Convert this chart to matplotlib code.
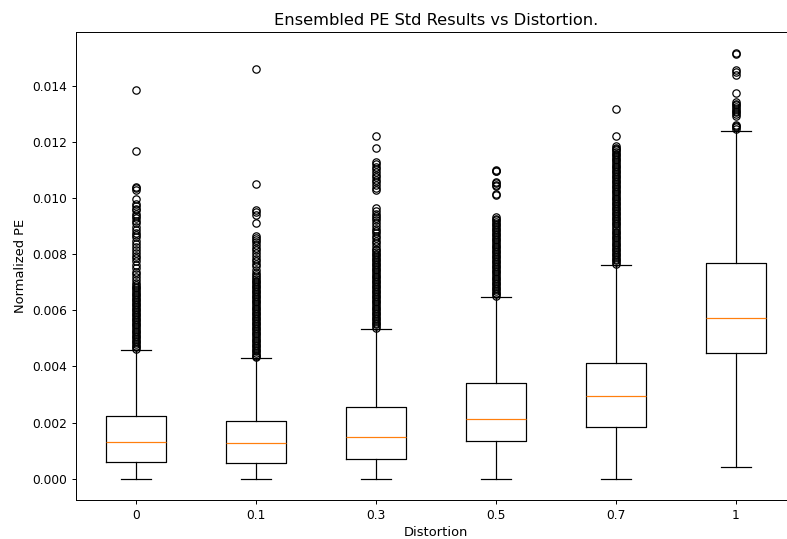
import matplotlib
matplotlib.use("Agg")
import matplotlib.pyplot as plt

# Values in units of 1e-3 (Normalized PE)
labels = ['0', '0.1', '0.3', '0.5', '0.7', '1']
q1 = [0.613, 0.577, 0.695, 1.347, 1.846, 4.48]
med = [1.301, 1.265, 1.50, 2.145, 2.95, 5.71]
q3 = [2.238, 2.06, 2.54, 3.41, 4.13, 7.69]
whislo = [0.0, 0.0, 0.0, 0.0, 0.0, 0.42]
whishi = [4.60, 4.29, 5.33, 6.48, 7.62, 12.39]

fliers_0 = [13.86, 11.68, 10.40, 10.36, 10.28, 9.96, 9.78, 9.71, 9.62, 9.57, 9.45, 9.36,
            9.28, 9.19, 9.10, 8.97, 8.88, 8.76, 8.68, 8.60, 8.48, 8.36, 8.25, 8.15, 8.05,
            7.95, 7.87, 7.75, 7.62, 7.50, 7.37, 7.28, 7.19, 7.07, 6.98, 6.90, 6.84, 6.78,
            6.72, 6.66, 6.60, 6.54, 6.48, 6.42, 6.36, 6.30, 6.24, 6.18, 6.12, 6.06, 6.00,
            5.94, 5.88, 5.82, 5.76, 5.70, 5.64, 5.58, 5.52, 5.46, 5.40, 5.34, 5.28, 5.22,
            5.16, 5.10, 5.04, 4.98, 4.92, 4.86, 4.80, 4.74, 4.68, 4.64]
fliers_01 = [14.59, 10.50, 9.59, 9.50, 9.39, 9.12, 8.64, 8.58, 8.50, 8.42, 8.32, 8.22,
             8.14, 8.04, 7.93, 7.84, 7.76, 7.66, 7.57, 7.45, 7.33, 7.26, 7.19, 7.10, 7.04,
             7.00, 6.94, 6.88, 6.82, 6.76, 6.70, 6.64, 6.58, 6.52, 6.46, 6.40, 6.34, 6.28,
             6.22, 6.16, 6.10, 6.04, 5.98, 5.92, 5.86, 5.80, 5.74, 5.68, 5.62, 5.56, 5.50,
             5.44, 5.38, 5.32, 5.26, 5.20, 5.14, 5.08, 5.02, 4.96, 4.90, 4.84, 4.78, 4.72,
             4.66, 4.60, 4.54, 4.48, 4.42, 4.36, 4.32]
fliers_03 = [12.22, 11.77, 11.29, 11.20, 11.11, 11.02, 10.93, 10.82, 10.74, 10.66, 10.56,
             10.46, 10.37, 10.28, 9.63, 9.55, 9.45, 9.36, 9.28, 9.21, 9.10, 9.00, 8.90,
             8.82, 8.74, 8.65, 8.56, 8.48, 8.40, 8.29, 8.20, 8.14, 8.08, 8.02, 7.96, 7.90,
             7.84, 7.78, 7.72, 7.66, 7.60, 7.54, 7.48, 7.42, 7.36, 7.30, 7.24, 7.18, 7.12,
             7.06, 7.00, 6.94, 6.88, 6.82, 6.76, 6.70, 6.64, 6.58, 6.52, 6.46, 6.40, 6.34,
             6.28, 6.22, 6.16, 6.10, 6.04, 5.98, 5.92, 5.86, 5.80, 5.74, 5.68, 5.62, 5.56,
             5.50, 5.44, 5.38]
fliers_05 = [10.99, 10.97, 10.95, 10.58, 10.54, 10.48, 10.42, 10.14, 10.11, 9.33, 9.27,
             9.21, 9.15, 9.09, 9.03, 8.97, 8.91, 8.85, 8.79, 8.73, 8.67, 8.61, 8.55, 8.49,
             8.43, 8.37, 8.31, 8.25, 8.19, 8.13, 8.07, 8.01, 7.95, 7.89, 7.83, 7.77, 7.71,
             7.65, 7.59, 7.53, 7.47, 7.41, 7.35, 7.29, 7.23, 7.17, 7.11, 7.05, 6.99, 6.93,
             6.87, 6.81, 6.75, 6.69, 6.63, 6.57, 6.52]
fliers_07 = [13.17, 12.23, 11.85, 11.80, 11.76, 11.70, 11.64, 11.58, 11.52, 11.46, 11.40,
             11.34, 11.28, 11.22, 11.16, 11.10, 11.04, 10.98, 10.92, 10.86, 10.80, 10.74,
             10.68, 10.62, 10.56, 10.50, 10.44, 10.38, 10.32, 10.26, 10.20, 10.14, 10.08,
             10.02, 9.96, 9.90, 9.84, 9.78, 9.72, 9.66, 9.60, 9.54, 9.48, 9.42, 9.36, 9.30,
             9.24, 9.18, 9.12, 9.06, 9.00, 8.94, 8.88, 8.80, 8.74, 8.68, 8.62, 8.56, 8.50,
             8.44, 8.38, 8.32, 8.26, 8.20, 8.14, 8.08, 8.02, 7.96, 7.90, 7.84, 7.78, 7.72,
             7.66]
fliers_1 = [15.16, 15.13, 14.58, 14.50, 14.40, 13.73, 13.43, 13.36, 13.30, 13.24, 13.18,
            13.12, 13.06, 12.99, 12.93, 12.62, 12.56, 12.52, 12.47]

fliers = [fliers_0, fliers_01, fliers_03, fliers_05, fliers_07, fliers_1]

scale = 1e-3
stats = []
for i, lab in enumerate(labels):
    stats.append(dict(
        label=lab,
        q1=q1[i] * scale, med=med[i] * scale, q3=q3[i] * scale,
        whislo=whislo[i] * scale, whishi=whishi[i] * scale,
        fliers=[v * scale for v in fliers[i]],
    ))

s = 0.88
plt.rcParams['font.family'] = ['DejaVu Sans']
fig = plt.figure(figsize=(7.87, 5.39), dpi=100)
ax = fig.add_axes([76 / 787, 39 / 539, 720 / 787, 468 / 539])

ax.bxp(stats,
       boxprops=dict(color='black', linewidth=s),
       whiskerprops=dict(color='black', linewidth=s),
       capprops=dict(color='black', linewidth=s),
       medianprops=dict(color='#ff7f0e', linewidth=s),
       flierprops=dict(marker='o', markerfacecolor='none', markeredgecolor='black',
                       markersize=6 * s, markeredgewidth=s))

for sp in ax.spines.values():
    sp.set_linewidth(0.8 * s)
ax.tick_params(labelsize=10 * s, length=3.5 * s, width=0.8 * s, pad=3.5 * s)
ax.set_title('Ensembled PE Std Results vs Distortion.', fontsize=11.7, pad=6 * s)
ax.set_xlabel('Distortion', fontsize=9.4, labelpad=3)
ax.set_ylabel('Normalized PE', fontsize=9.4, labelpad=4)

fig.savefig('out.png', dpi=100)
